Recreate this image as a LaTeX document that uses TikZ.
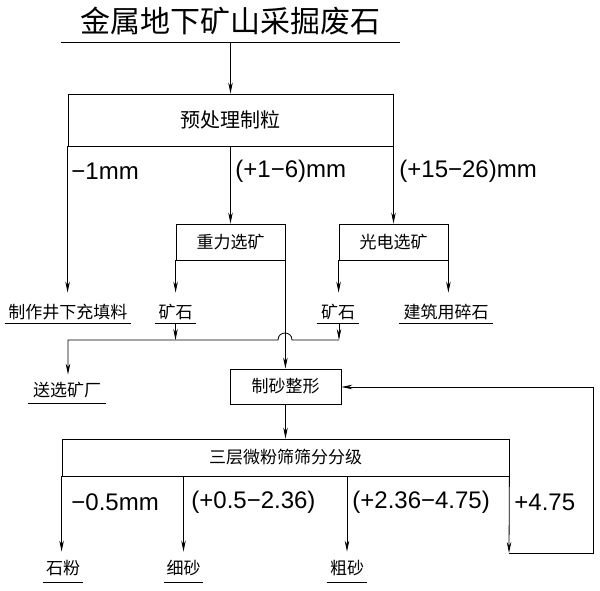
\documentclass[tikz,border=0pt]{standalone}
\usepackage{fontspec}
\setmainfont{Liberation Sans}
\newfontfamily\cjk{Noto Sans CJK SC}
\usetikzlibrary{arrows.meta}
\begin{document}
\begin{tikzpicture}[x=1pt,y=-1pt,line width=0.8pt,
  arr/.style={-{Stealth[length=11pt,width=4.5pt]}},
  box/.style={draw,inner sep=0pt,font=\cjk\fontsize{17}{17}\selectfont},
  num/.style={font=\fontsize{24}{24}\selectfont,inner sep=0pt,anchor=west},
  lbl/.style={inner sep=0pt,font=\cjk\fontsize{17}{17}\selectfont,
    append after command={(\tikzlastnode.south west) edge[-] (\tikzlastnode.south east)}}]
\useasboundingbox (0,0) rectangle (600,591);

% title
\node[lbl,font=\cjk\fontsize{30}{30}\selectfont,minimum width=339pt,minimum height=41pt] (title) at (230.5,21.5) {金属地下矿山采掘废石};
\node[box,minimum width=325pt,minimum height=52pt,font=\cjk\fontsize{20}{20}\selectfont] (b1) at (230.5,120) {预处理制粒};

\node[box,minimum width=109pt,minimum height=36pt] (grav) at (230.5,242) {重力选矿};
\node[box,minimum width=109pt,minimum height=36pt] (photo) at (393.5,242) {光电选矿};

\node[lbl,minimum width=126pt,minimum height=22pt] (fill) at (68,312) {制作井下充填料};
\node[lbl,minimum width=41pt,minimum height=22pt] (ore1) at (175.5,312) {矿石};
\node[lbl,minimum width=42pt,minimum height=22pt] (ore2) at (338,312) {矿石};
\node[lbl,minimum width=94pt,minimum height=22pt] (build) at (446,312) {建筑用碎石};

\node[lbl,minimum width=78pt,minimum height=26pt] (send) at (67,390) {送选矿厂};
\node[box,minimum width=111pt,minimum height=35pt] (mill) at (285.5,386.5) {制砂整形};
\node[box,minimum width=447pt,minimum height=37pt] (b2) at (285.5,457.5) {三层微粉筛筛分分级};

\node[lbl,minimum width=40pt,minimum height=28pt] (p1) at (63,568) {石粉};
\node[lbl,minimum width=39pt,minimum height=28pt] (p2) at (183.5,568) {细砂};
\node[lbl,minimum width=40pt,minimum height=28pt] (p3) at (347,568) {粗砂};

% size labels
\node[num] (s1) at (71,171) {−1mm};
\node[num] (s2) at (235,171) {(+1−6)mm};
\node[num] (s3) at (399,171) {(+15−26)mm};
\node[num] (t1) at (71,502) {−0.5mm};
\node[num] (t2) at (191,502) {(+0.5−2.36)};
\node[num] (t3) at (352,502) {(+2.36−4.75)};
\node[num] (t4) at (514,502) {+4.75};

% connectors
\draw[arr] (title.south) -- (b1.north);
\draw[arr,shorten >=8pt] (b1.south west) -- (b1.south west |- fill.north);
\draw[arr] (b1.south) -- (grav.north);
\draw[arr] (b1.south east) -- (photo.north);
\draw[arr,shorten >=8pt] (grav.south west) -- (grav.south west |- ore1.north);
\draw[arr,shorten >=8pt] (photo.south west) -- (photo.south west |- ore2.north);
\draw[arr,shorten >=8pt] (photo.south east) -- (photo.south east |- build.north);

\coordinate (hL) at (68,340);
\coordinate (hR) at (339,340);
\draw[arr] (ore1.south) -- (ore1.south |- hL);
\draw[arr] (ore2.south -| hR) -- (hR);
\draw[arr,shorten >=2pt] (hR) -- (292,340) .. controls (292,330.7) and (278,330.7) .. (278,340) -- (hL) -- (send.north -| hL);
\draw[arr] (grav.south east) -- (grav.south east |- mill.north);
\draw[arr] (mill.south) -- (b2.north);

\draw[arr,shorten >=2pt] (b2.south west) -- (b2.south west |- p1.north);
\draw[arr,shorten >=2pt] (p2.north |- b2.south) -- (p2.north);
\draw[arr,shorten >=2pt] (p3.north |- b2.south) -- (p3.north);

\coordinate (c1) at (509,553);
\coordinate (c2) at (593,553);
\coordinate (c3) at (593,387);
\draw[arr] (b2.south east) -- (c1);
\draw[arr] (c1) -- (c2) -- (c3) -- (mill.east |- c3);
\end{tikzpicture}
\end{document}
